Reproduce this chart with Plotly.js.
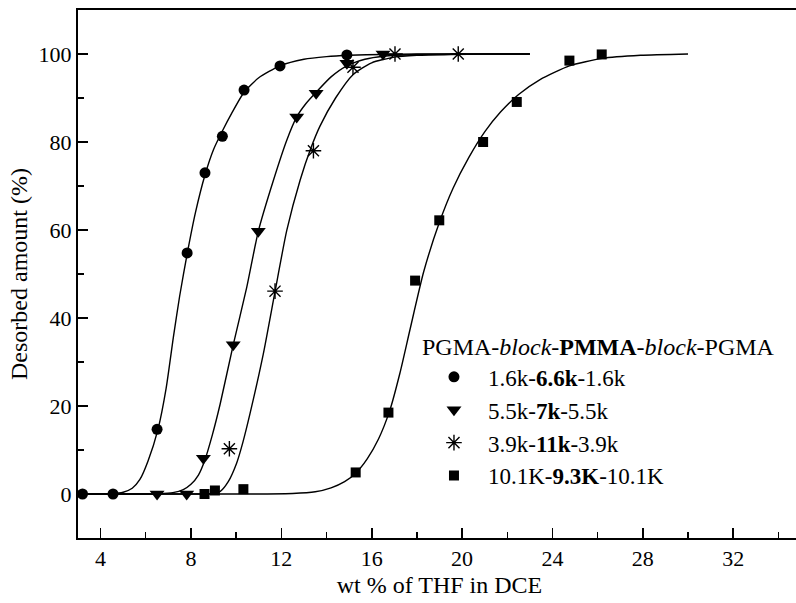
<!DOCTYPE html>
<html>
<head>
<meta charset="utf-8">
<script src="https://cdn.plot.ly/plotly-3.0.1.min.js"></script>
<style>
  html, body { margin: 0; padding: 0; overflow: hidden; background: #fff; }
  #chart { width: 805px; height: 603px; }
</style>
</head>
<body>
<div id="chart"></div>
<script>
// ---- measured data points ----
const circX = [3.2, 4.55, 6.5, 7.83, 8.62, 9.39, 10.35, 11.94, 14.9];
const circY = [0, 0, 14.7, 54.8, 73, 81.3, 91.8, 97.3, 99.8];

const triX = [6.5, 7.81, 8.55, 9.87, 10.98, 12.68, 13.54, 14.9, 16.5];
const triY = [0, 0, 8.1, 33.9, 59.7, 85.7, 91.1, 97.9, 100];

const starX = [9.7, 11.72, 13.42, 15.17, 17.03, 19.83];
const starY = [10.3, 46.1, 78, 97, 100, 100];

const sqX = [8.6, 9.06, 10.32, 15.29, 16.74, 17.92, 18.99, 20.93, 22.42, 24.75, 26.18];
const sqY = [0, 0.8, 1.1, 4.9, 18.5, 48.5, 62.2, 80, 89.1, 98.5, 99.9];

// ---- fitted curves ----
const circFitX = [3, 3.5, 4.0, 4.5, 5.0, 5.4, 5.74, 6.1, 6.54, 6.9, 7.22, 7.5, 7.84, 8.2, 8.62, 9.0, 9.39, 9.8, 10.35, 11.0, 11.94, 13, 14, 15, 16.5, 18, 20, 23];
const circFitY = [0, 0, 0, 0.05, 0.4, 1.3, 3.3, 7.5, 14.7, 24, 35.6, 45, 54.8, 64, 72.5, 78.3, 82.5, 86.5, 91.3, 94.6, 97.3, 98.8, 99.4, 99.7, 99.9, 100, 100, 100];

const triFitX = [3, 4, 5, 6, 6.6, 7.2, 7.66, 8.0, 8.33, 8.6, 8.95, 9.29, 9.87, 10.47, 10.98, 11.65, 12.24, 12.68, 13.1, 13.54, 14.2, 14.9, 15.7, 16.5, 18, 20, 23];
const triFitY = [0, 0, 0, 0, 0.05, 0.3, 1, 2.2, 4.3, 7.5, 13.5, 20.4, 33.9, 47, 59.7, 71.3, 80.4, 85.7, 88.8, 91.3, 94.8, 97.3, 98.8, 99.5, 99.9, 100, 100];

const starFitX = [3, 4.5, 6, 7.5, 8.5, 9.0, 9.3, 9.65, 10.02, 10.3, 10.61, 11.2, 11.72, 12.24, 12.83, 13.3, 13.71, 14.4, 15.17, 16, 17, 18, 19.5, 21, 23];
const starFitY = [0, 0, 0, 0, 0, 0.1, 0.6, 2.8, 7.0, 11.8, 18.2, 31.8, 46, 59.9, 71.3, 78.5, 83.6, 90, 95.3, 98, 99.3, 99.7, 99.9, 100, 100];

const sqFitX = [3, 5, 7, 9, 11, 12.5, 13.5, 14.2, 14.8, 15.3, 15.8, 16.3, 16.8, 17.25, 17.7, 18.3, 19.0, 19.6, 20.3, 21.0, 21.7, 22.5, 23.45, 24.75, 26.2, 27.9, 30];
const sqFitY = [0, 0, 0, 0, 0, 0.1, 0.5, 1.4, 2.8, 4.8, 8.0, 12.5, 19, 27.5, 37.5, 50.5, 61.8, 69.5, 76.5, 82.3, 86.8, 90.8, 94.2, 97.3, 99.0, 99.7, 100];

const seriesNames = [
  '1.6k-<b>6.6k</b>-1.6k',
  '5.5k-<b>7k</b>-5.5k',
  '3.9k-<b>11k</b>-3.9k',
  '10.1K-<b>9.3K</b>-10.1K'
];
const legendTitle = 'PGMA-<i>block</i>-<b>PMMA</b>-<i>block</i>-PGMA';

const FONT = "'Liberation Serif', 'Times New Roman', Times, 'DejaVu Serif', serif";

function fit(x, y) {
  return { x: x, y: y, mode: 'lines', type: 'scatter', showlegend: false, hoverinfo: 'skip',
           line: { color: '#000', width: 1.4, shape: 'spline', smoothing: 0.6 } };
}
function pts(x, y, name, symbol, size, lw) {
  return { x: x, y: y, mode: 'markers', type: 'scatter', name: name, legendgroup: name,
           marker: { symbol: symbol, size: size, color: '#000', line: { color: '#000', width: lw } } };
}

const data = [
  fit(circFitX, circFitY), fit(triFitX, triFitY), fit(starFitX, starFitY), fit(sqFitX, sqFitY),
  pts(circX, circY, seriesNames[0], 'circle', 11, 0),
  pts(triX, triY, seriesNames[1], 'triangle-down', 13, 0),
  pts(starX, starY, seriesNames[2], 'asterisk-open', 13, 1.4),
  pts(sqX, sqY, seriesNames[3], 'square', 10, 0)
];

const layout = {
  width: 805, height: 603,
  margin: { l: 78, r: 4, t: 10, b: 65 },
  paper_bgcolor: '#fff', plot_bgcolor: '#fff',
  font: { family: FONT, color: '#000', size: 22 },
  xaxis: {
    range: [3, 35], tick0: 0, dtick: 4, ticks: 'inside', ticklen: 10, tickwidth: 1.6, tickcolor: '#000',
    showline: true, linewidth: 2, linecolor: '#000', mirror: true, showgrid: false, zeroline: false,
    tickfont: { family: FONT, size: 22 },
    minor: { dtick: 2, ticks: 'inside', ticklen: 6, tickwidth: 1.4, tickcolor: '#000', showgrid: false },
    title: { text: 'wt % of THF in DCE', font: { family: FONT, size: 24 }, standoff: 6 }
  },
  yaxis: {
    range: [-10, 110], tick0: 0, dtick: 20, ticks: 'inside', ticklen: 10, tickwidth: 1.6, tickcolor: '#000',
    showline: true, linewidth: 2, linecolor: '#000', mirror: true, showgrid: false, zeroline: false,
    tickfont: { family: FONT, size: 22 },
    minor: { dtick: 10, ticks: 'inside', ticklen: 6, tickwidth: 1.4, tickcolor: '#000', showgrid: false },
    title: { text: 'Desorbed amount (%)', font: { family: FONT, size: 24 }, standoff: 4 }
  },
  legend: {
    x: 0.473, y: 0.405, xanchor: 'left', yanchor: 'top',
    bgcolor: 'rgba(0,0,0,0)', borderwidth: 0,
    font: { family: FONT, size: 23, color: '#000' },
    title: { text: legendTitle, font: { family: FONT, size: 24, color: '#000' } },
    tracegroupgap: 0, itemwidth: 58
  },
  showlegend: true
};

Plotly.newPlot('chart', data, layout, { displayModeBar: false, staticPlot: true });
</script>
</body>
</html>
